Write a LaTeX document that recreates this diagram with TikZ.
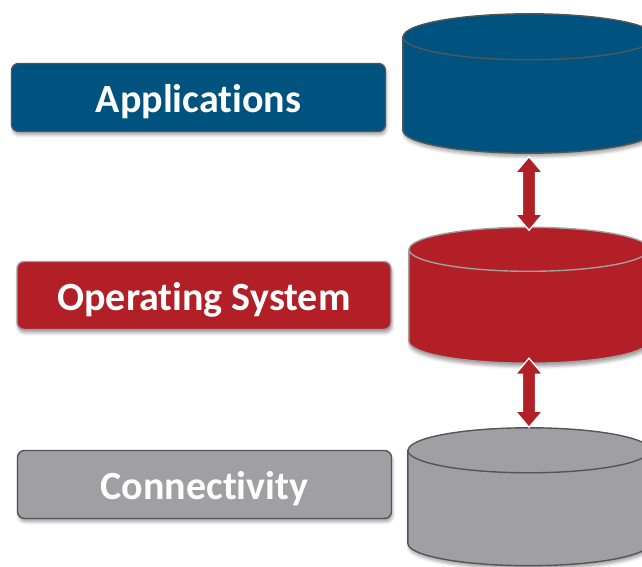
\documentclass[tikz,border=0pt]{standalone}
\usepackage{fontspec}
\setmainfont[Ligatures={NoCommon,NoDiscretionary,NoContextual}]{Carlito}
\usetikzlibrary{calc,shadows.blur}

\definecolor{appblue}{RGB}{0,82,127}
\definecolor{osred}{RGB}{178,31,39}
\definecolor{conngrey}{RGB}{160,160,163}
\definecolor{darkrim}{RGB}{85,85,88}
\definecolor{lightrim}{RGB}{160,160,160}

% cylinder outline drawn inside an invisible bounding node
% #1 node name, #2 fill, #3 rim colour, #4 x radius, #5 y radius
\newcommand\drumshape[5]{%
  \path[softshadow, fill=#2, draw=#3, line width=1.4pt]
    ($(#1.north west)+(0,-#5)$) -- ($(#1.south west)+(0,#5)$)
    arc[start angle=180, end angle=360, x radius=#4, y radius=#5]
    -- ($(#1.north east)+(0,-#5)$)
    arc[start angle=0, end angle=180, x radius=#4, y radius=#5] -- cycle;
  \draw[draw=#3, line width=1.4pt] ($(#1.north west)+(0,-#5)$)
    arc[start angle=180, end angle=360, x radius=#4, y radius=#5];
}

% block double arrow between two named tips
\newcommand\blockarrow[2]{%
  \path[arrowbody] (#1) -- ++(13.5,-16) -- ++(-7,0)
    -- ($(#2)+(6.5,16)$) -- ++(7,0) -- (#2) -- ++(-13.5,16) -- ++(7,0)
    -- ($(#1)+(-6.5,-16)$) -- ++(-7,0) -- cycle;
}

\tikzset{
  softshadow/.style={blur shadow={shadow xshift=1pt, shadow yshift=-3.5pt,
    shadow blur radius=3pt, shadow opacity=35}},
  layerbox/.style={rectangle, rounded corners=7pt, line width=1.4pt,
    minimum width=374pt, minimum height=68pt, inner sep=0pt, softshadow,
    text height=31pt, text depth=0pt,
    text=white, font=\fontsize{40}{48}\selectfont\bfseries},
  drumbox/.style={rectangle, inner sep=0pt, draw=none},
  arrowbody/.style={fill=osred, draw=white, line width=1.3pt, line join=miter},
}

\begin{document}
\begin{tikzpicture}[x=1pt, y=1pt]
\useasboundingbox (0,0) rectangle (642,567);

% labels on the left
\node[layerbox, fill=appblue, draw=darkrim] (apps) at (198.5,469.5) {Applications};
\node[layerbox, fill=osred, draw=lightrim] (os) at (204,271.5) {Operating System};
\node[layerbox, fill=conngrey, draw=darkrim] (conn) at (204.5,82.5) {Connectivity};

% cylinders on the right
\node[drumbox, minimum width=252pt, minimum height=139pt] (appcyl) at (529,483.5) {};
\node[drumbox, minimum width=240pt, minimum height=135.5pt] (oscyl) at (529,271.75) {};
\node[drumbox, minimum width=242pt, minimum height=137.5pt] (conncyl) at (529,70.25) {};

\drumshape{appcyl}{appblue}{darkrim}{126}{23}
\drumshape{oscyl}{osred}{lightrim}{120}{22}
\drumshape{conncyl}{conngrey}{darkrim}{121}{22.5}

% arrows between the layers
\coordinate (a1top) at ($(appcyl.south)+(0,-3.5)$);
\coordinate (a1bot) at ($(oscyl.north)+(0,-3)$);
\coordinate (a2top) at ($(oscyl.south)+(0,5)$);
\coordinate (a2bot) at ($(conncyl.north)+(0,0.5)$);
\blockarrow{a1top}{a1bot}
\blockarrow{a2top}{a2bot}
\end{tikzpicture}
\end{document}
